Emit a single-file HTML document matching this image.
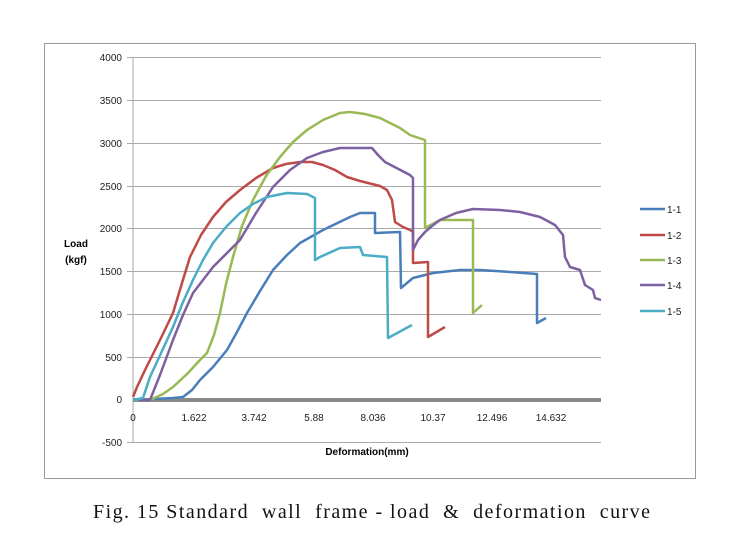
<!DOCTYPE html>
<html><head><style>
body{margin:0;background:#fff;width:740px;height:553px;overflow:hidden;font-family:"Liberation Sans",sans-serif}
</style></head><body>
<svg width="740" height="553" xmlns="http://www.w3.org/2000/svg" style="position:absolute;left:0;top:0">
<rect x="44.5" y="43.5" width="651" height="435" fill="#fff" stroke="#999" stroke-width="1"/>
<g stroke="#aaa" stroke-width="1">
<line x1="127" x2="601" y1="57.5" y2="57.5"/><line x1="127" x2="601" y1="100.5" y2="100.5"/>
<line x1="127" x2="601" y1="143.5" y2="143.5"/><line x1="127" x2="601" y1="186.5" y2="186.5"/>
<line x1="127" x2="601" y1="228.5" y2="228.5"/><line x1="127" x2="601" y1="271.5" y2="271.5"/>
<line x1="127" x2="601" y1="314.5" y2="314.5"/><line x1="127" x2="601" y1="357.5" y2="357.5"/>
<line x1="127" x2="601" y1="442.5" y2="442.5"/>
<line x1="133" x2="133" y1="57" y2="442"/>
</g>
<rect x="133" y="398" width="468" height="4" fill="#888"/>
<g font-size="10" fill="#222" text-anchor="end">
<text x="122" y="61">4000</text><text x="122" y="104">3500</text><text x="122" y="147">3000</text>
<text x="122" y="190">2500</text><text x="122" y="232">2000</text><text x="122" y="275">1500</text>
<text x="122" y="318">1000</text><text x="122" y="361">500</text><text x="122" y="403">0</text>
<text x="122" y="446">-500</text>
</g>
<g font-size="10" fill="#222" text-anchor="middle">
<text x="133" y="421">0</text><text x="194" y="421">1.622</text><text x="254" y="421">3.742</text>
<text x="314" y="421">5.88</text><text x="373" y="421">8.036</text><text x="433" y="421">10.37</text>
<text x="492" y="421">12.496</text><text x="551" y="421">14.632</text>
</g>
<text x="367" y="455" font-size="10" font-weight="bold" text-anchor="middle">Deformation(mm)</text>
<text x="76" y="247" font-size="10" font-weight="bold" text-anchor="middle">Load</text>
<text x="76" y="263" font-size="10" font-weight="bold" text-anchor="middle">(kgf)</text>
<g fill="none" stroke-width="2.5" stroke-linejoin="round">
<path stroke="#4a7ebb" d="M133,400 L173,398 L183,397 L192,390 L200,380 L213,367 L227,350 L237,332 L247,313 L260,291 L273,270 L287,255 L300,243 L323,230 L350,217 L360,213 L375,213 L375,233 L400,232 L401,288 L413,278 L433,273 L460,270 L480,270 L510,272 L537,274 L537,323 L546,318"/>
<path stroke="#be4b48" d="M133,397 L137,387 L146,368 L160,340 L173,313 L182,283 L190,257 L201,235 L213,217 L226,202 L240,190 L256,178 L273,168 L286,164 L300,162 L312,162 L323,165 L335,170 L347,177 L360,181 L380,186 L387,190 L392,200 L395,222 L403,227 L410,230 L413,232 L413,263 L428,262 L428,337 L445,327"/>
<path stroke="#98b954" d="M133,400 L150,400 L163,394 L173,387 L187,374 L200,360 L207,353 L214,335 L220,313 L226,284 L233,257 L242,226 L253,200 L266,176 L280,157 L293,142 L307,130 L323,120 L340,113 L350,112 L365,114 L380,118 L400,128 L410,135 L425,140 L425,228 L440,220 L473,220 L473,313 L482,305"/>
<path stroke="#7d60a0" d="M138,400 L150,400 L160,375 L173,340 L183,315 L193,293 L213,267 L240,240 L256,213 L273,187 L290,170 L307,158 L323,152 L340,148 L372,148 L378,155 L385,162 L410,175 L413,178 L413,250 L418,240 L425,232 L432,226 L440,220 L456,213 L473,209 L500,210 L520,212 L540,217 L555,225 L563,235 L565,257 L570,267 L580,270 L585,285 L593,290 L595,298 L601,300"/>
<path stroke="#4bacc6" d="M133,400 L143,398 L150,377 L162,351 L173,327 L183,302 L193,280 L203,260 L213,243 L226,227 L240,213 L253,204 L267,197 L287,193 L307,194 L315,198 L315,260 L320,257 L340,248 L360,247 L363,255 L387,257 L388,338 L412,325"/>
</g>
<g stroke-width="2.5">
<line x1="640" x2="665" y1="209" y2="209" stroke="#4a7ebb"/>
<line x1="640" x2="665" y1="235" y2="235" stroke="#be4b48"/>
<line x1="640" x2="665" y1="260" y2="260" stroke="#98b954"/>
<line x1="640" x2="665" y1="285" y2="285" stroke="#7d60a0"/>
<line x1="640" x2="665" y1="311" y2="311" stroke="#4bacc6"/>
</g>
<g font-size="10" fill="#222">
<text x="667" y="213">1-1</text><text x="667" y="239">1-2</text><text x="667" y="264">1-3</text>
<text x="667" y="289">1-4</text><text x="667" y="315">1-5</text>
</g>
<text x="93" y="518" font-size="20" textLength="557" lengthAdjust="spacing" font-family="Liberation Serif, serif" fill="#111" xml:space="preserve">Fig. 15 Standard  wall  frame - load  &amp;  deformation  curve</text>
</svg>
</body></html>
